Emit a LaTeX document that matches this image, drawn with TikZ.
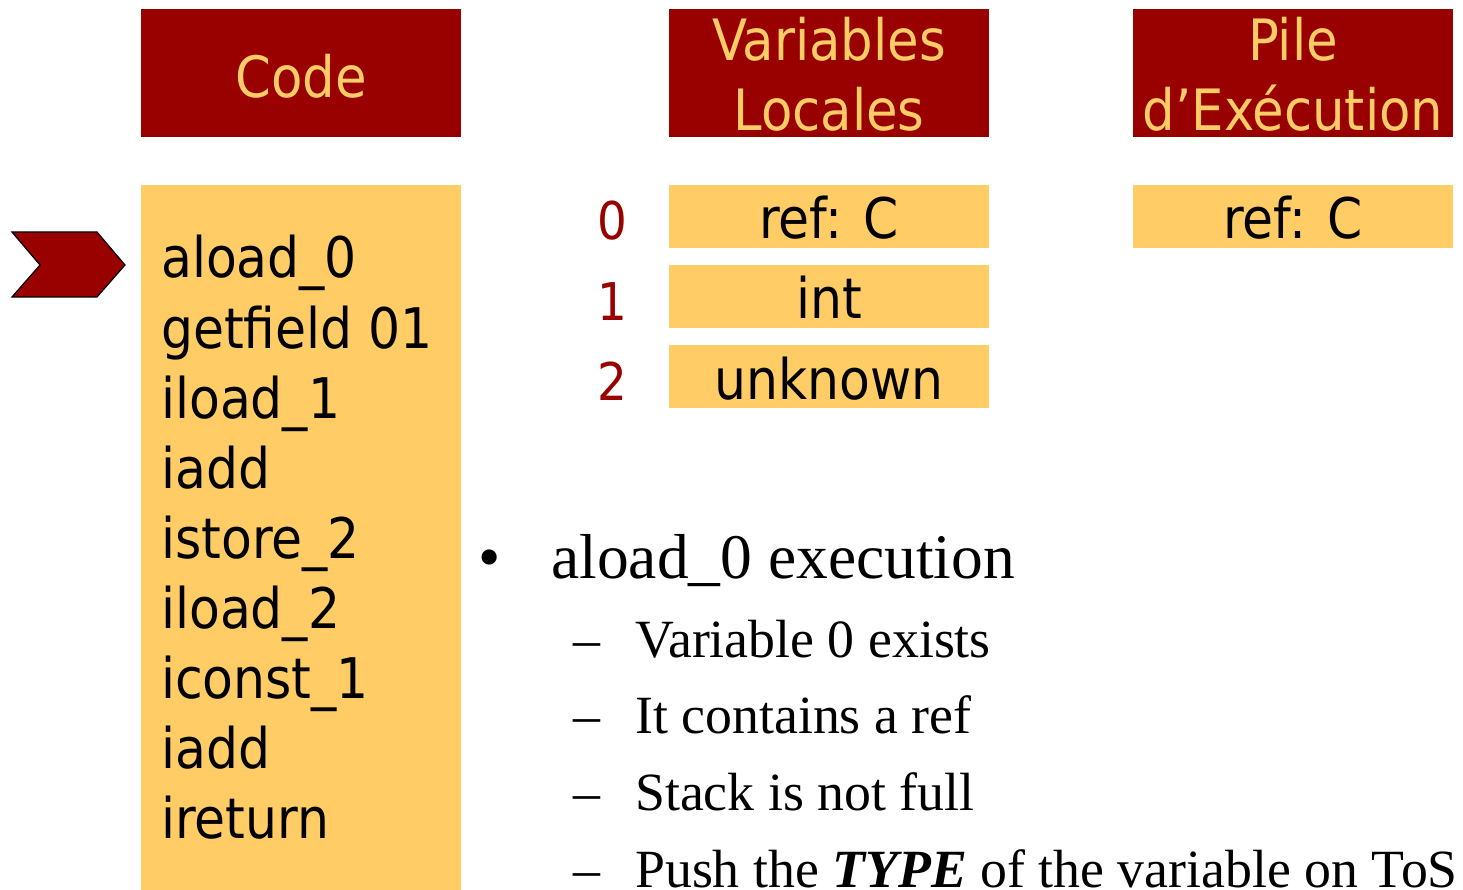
\documentclass[tikz,border=0pt]{standalone}
\usepackage{fontspec}
\setmainfont{Liberation Serif}
\newfontfamily\slidesans{DejaVu Sans Condensed}
\definecolor{darkred}{HTML}{990000}
\definecolor{gold}{HTML}{FFCC66}
\tikzset{
  header/.style={fill=darkred, draw=none},
  cell/.style={fill=gold, draw=none},
  headtext/.style={text=gold, font=\slidesans\fontsize{57}{69}\selectfont, anchor=base, inner sep=0pt},
  codetext/.style={text=black, font=\slidesans\fontsize{56}{70}\selectfont, anchor=base west, inner sep=0pt},
  celltext/.style={text=black, font=\slidesans\fontsize{56}{70}\selectfont, anchor=base, inner sep=0pt},
  idxtext/.style={text=darkred, font=\slidesans\fontsize{52}{60}\selectfont, anchor=base, inner sep=0pt},
  toptext/.style={font=\fontsize{63.5}{70}\selectfont, anchor=base west, inner sep=0pt},
  subtext/.style={font=\fontsize{53.8}{60}\selectfont, anchor=base west, inner sep=0pt},
}
\begin{document}
\begin{tikzpicture}[x=1pt, y=-1pt]
\useasboundingbox (0,0) rectangle (1463,890);

% column headers
\fill[header] (141,9) rectangle (461,137);
\fill[header] (669,9) rectangle (989,137);
\fill[header] (1133,9) rectangle (1453,137);
\node[headtext] (hcode) at (301,98) {Code};
\node[headtext] (hvar1) at (829,61) {Variables};
\node[headtext] (hvar2) at (829,131) {Locales};
\node[headtext] (hpile1) at (1293,61) {Pile};
\node[headtext] (hpile2) at (1293,131) {d’Exécution};

% bytecode listing
\fill[cell] (141,185) rectangle (461,890);
\node[codetext] (c1) at (161,278) {aload\_0};
\node[codetext] (c2) at (161,348) {getfield 01};
\node[codetext] (c3) at (161,418) {iload\_1};
\node[codetext] (c4) at (161,488) {iadd};
\node[codetext] (c5) at (161,558) {istore\_2};
\node[codetext] (c6) at (161,628) {iload\_2};
\node[codetext] (c7) at (161,698) {iconst\_1};
\node[codetext] (c8) at (161,768) {iadd};
\node[codetext] (c9) at (161,838) {ireturn};

% program counter marker
\draw[fill=darkred, draw=black, line width=1.2pt, line join=miter]
  (12,232) -- (97,232) -- (125,265) -- (97,297) -- (12,297) -- (40,265) -- cycle;

% local variables
\fill[cell] (669,185) rectangle (989,248);
\fill[cell] (669,265) rectangle (989,328);
\fill[cell] (669,345) rectangle (989,408);
\node[celltext] (v0) at (829,239) {ref: C};
\node[celltext] (v1) at (829,319) {int};
\node[celltext] (v2) at (829,399) {unknown};
\node[idxtext] (i0) at (612,240) {0};
\node[idxtext] (i1) at (612,320) {1};
\node[idxtext] (i2) at (612,400) {2};

% operand stack
\fill[cell] (1133,185) rectangle (1453,248);
\node[celltext] (s0) at (1293,239) {ref: C};

% explanation
\node[toptext] (b0) at (478,578) {•};
\node[toptext] (t0) at (551,578) {aload\_0 execution};
\node[subtext] (d1) at (573,657) {–};
\node[subtext] (t1) at (635,657) {Variable 0 exists};
\node[subtext] (d2) at (573,733) {–};
\node[subtext] (t2) at (635,733) {It contains a ref};
\node[subtext] (d3) at (573,810) {–};
\node[subtext] (t3) at (635,810) {Stack is not full};
\node[subtext] (d4) at (573,887) {–};
\node[subtext] (t4) at (635,887) {Push the \textbf{\textit{TYPE}} of the variable on ToS};
\end{tikzpicture}
\end{document}
